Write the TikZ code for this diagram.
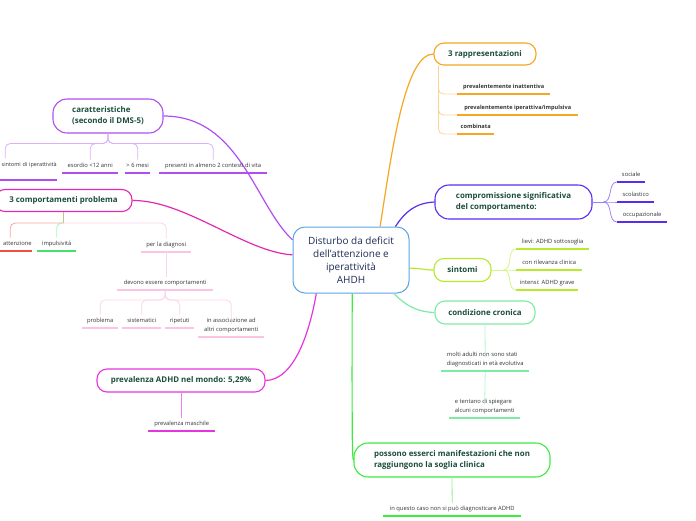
\documentclass[tikz,border=0pt]{standalone}
\usepackage{fontspec}
\setmainfont{Open Sans}
\usetikzlibrary{calc}
\definecolor{titlec}{HTML}{1B4D3E}
\definecolor{smallc}{HTML}{333333}
\definecolor{ctrtext}{HTML}{1F2D55}
\definecolor{ctrC}{HTML}{5BA4E5}
\definecolor{orC}{HTML}{F5A623}
\definecolor{orL}{HTML}{FBD494}
\definecolor{viC}{HTML}{5A2CF0}
\definecolor{viL}{HTML}{9A84F5}
\definecolor{siC}{HTML}{B5EA2D}
\definecolor{siL}{HTML}{D6F48A}
\definecolor{crC}{HTML}{7DEBA5}
\definecolor{crL}{HTML}{B4F5CC}
\definecolor{poC}{HTML}{3DEB3D}
\definecolor{poL}{HTML}{8CF08C}
\definecolor{caC}{HTML}{B04EF0}
\definecolor{caL}{HTML}{DDB0FA}
\definecolor{cpC}{HTML}{E02AB4}
\definecolor{tanL}{HTML}{CDBE8E}
\definecolor{redC}{HTML}{F0503C}
\definecolor{redL}{HTML}{F5A89C}
\definecolor{grC}{HTML}{45E070}
\definecolor{grL}{HTML}{AEF0C0}
\definecolor{pkC}{HTML}{FBC4E2}
\definecolor{pkL}{HTML}{FCD3EA}
\definecolor{pvC}{HTML}{E535E0}
\definecolor{pvL}{HTML}{F080EA}
\begin{document}
\begin{tikzpicture}[x=1pt,y=-1pt,
  box/.style={draw=#1, line width=1.1pt, fill=white, rounded corners=10pt, align=center,
    inner sep=0pt, font=\fontsize{7.9}{11}\selectfont\bfseries, text=titlec},
  conn/.style={draw=#1, line width=1.2pt},
  brk/.style={draw=#1, line width=0.8pt, rounded corners=5pt},
  fork/.style={draw=#1, line width=0.8pt},
  ul/.style={draw=#1, line width=1.6pt},
  leaf/.style={font=\fontsize{5.8}{9}\selectfont, text=smallc, text height=4.4pt, text depth=1.3pt,
    inner xsep=0pt, inner ysep=3.6pt, align=center, anchor=south west},
  leafb/.style={leaf, font=\fontsize{5.6}{9}\selectfont\bfseries},
]
\useasboundingbox (0,0) rectangle (696,520);

% central
\node[draw=ctrC, line width=1pt, fill=white, rounded corners=12pt, minimum width=116pt, minimum height=66pt,
  align=center, text=ctrtext, font=\fontsize{10}{13}\selectfont] (ctr) at (351,260)
  {Disturbo da deficit\\dell'attenzione e\\iperattività\\AHDH};

% main boxes
\node[box=orC, minimum width=102pt, minimum height=22pt] (rep) at (485,54) {3 rappresentazioni};
\node[box=viC, minimum width=157pt, minimum height=34pt, rounded corners=14pt, align=left] (comp) at (513.5,202) {compromissione significativa\\del comportamento:};
\node[box=siC, minimum width=57pt, minimum height=23pt] (sint) at (462.5,270) {sintomi};
\node[box=crC, minimum width=100pt, minimum height=23pt] (cron) at (485,312.5) {condizione cronica};
\node[box=poC, minimum width=196pt, minimum height=34pt, rounded corners=14pt, align=left] (poss) at (452,460) {possono esserci manifestazioni che non\\raggiungono la soglia clinica};
\node[box=caC, minimum width=110pt, minimum height=34pt, rounded corners=14pt, align=left] (carat) at (108,116) {caratteristiche\\(secondo il DMS-5)};
\node[box=cpC, minimum width=137pt, minimum height=22pt] (cp) at (63.5,200.5) {3 comportamenti problema};
\node[box=pvC, minimum width=168pt, minimum height=23pt] (prev) at (181,380.5) {prevalenza ADHD nel mondo: 5,29\%};

% main connectors
\draw[conn=orC] (ctr.49) .. controls (392,150) and (405,54) .. (rep.west);
\draw[conn=viC] (ctr.37) .. controls (405,212) and (415,203) .. (comp.west);
\draw[conn=siC] (ctr.-8) .. controls (420,268) and (424,270) .. (sint.west);
\draw[conn=crC] (ctr.-38) .. controls (408,308) and (420,312) .. (cron.west);
\draw[conn=poC] (ctr.-88) .. controls (352,420) and (352,460) .. (poss.west);
\draw[conn=pvC] (prev.east) .. controls (295,380) and (310,330) .. (ctr.-136);
\draw[conn=cpC] (cp.east) .. controls (185,200) and (245,252) .. (ctr.175);
\draw[conn=caC] (carat.east) .. controls (240,116) and (255,205) .. (ctr.161);

% 3 rappresentazioni
\node[leafb, minimum width=93pt] (r1) at (457,94) {prevalentemente inattentiva};
\node[leafb, minimum width=121pt] (r2) at (457,115) {prevalentemente iperattiva/impulsiva};
\node[leafb, minimum width=37pt] (r3) at (457,134) {combinata};
\foreach \n in {r1,r2,r3}{
  \draw[brk=orL] ($(rep.south west)+(5,0)$) |- (\n.south west);
  \draw[ul=orC] (\n.south west) -- (\n.south east);
}

% compromissione
\node[leaf, minimum width=28pt] (c1) at (617,182) {sociale};
\node[leaf, minimum width=37pt] (c2) at (617,202) {scolastico};
\node[leaf, minimum width=50pt] (c3) at (617,222) {occupazionale};
\draw[fork=viL] (comp.east) -- ++(11,0) coordinate (vf);
\foreach \n in {c1,c2,c3}{
  \draw[fork=viL] (vf) to[out=0,in=180] (\n.south west);
  \draw[ul=viC] (\n.south west) -- (\n.south east);
}

% sintomi
\node[leaf, minimum width=73pt] (s1) at (516,249) {lievi: ADHD sottosoglia};
\node[leaf, minimum width=66pt] (s2) at (516,270) {con rilevanza clinica};
\node[leaf, minimum width=62pt] (s3) at (516,290) {intensi: ADHD grave};
\draw[fork=siL] (sint.east) -- ++(12,0) coordinate (sf);
\foreach \n in {s1,s2,s3}{
  \draw[fork=siL] (sf) to[out=0,in=180] (\n.south west);
  \draw[ul=siC] (\n.south west) -- (\n.south east);
}

% condizione cronica
\node[leaf, minimum width=88pt, align=left] (cr1) at (441,371) {molti adulti non sono stati\\diagnosticati in età evolutiva};
\node[leaf, minimum width=71pt, align=left] (cr2) at (449,418) {e tentano di spiegare\\alcuni comportamenti};
\draw[fork=crL] (cron.south) -- (cr1.north);
\draw[fork=crL] (cr1.south) -- (cr2.north);
\draw[ul=crC] (cr1.south west) -- (cr1.south east);
\draw[ul=crC] (cr2.south west) -- (cr2.south east);

% possono
\node[leaf, minimum width=138pt] (p1) at (383,516) {in questo caso non si può diagnosticare ADHD};
\draw[fork=poL] (poss.south) -- (p1.north);
\draw[ul=poC] (p1.south west) -- (p1.south east);

% caratteristiche
\node[leaf, font=\fontsize{5.5}{9}\selectfont, text width=103pt, align=right, inner xsep=0.5pt, text depth=9.8pt] (k0) at (-47,180) {sintomi di iperattività};
\node[leaf, minimum width=56pt] (k1) at (62,173) {esordio <12 anni};
\node[leaf, minimum width=25pt] (k2) at (125,173) {> 6 mesi};
\node[leaf, minimum width=108pt] (k3) at (159,173) {presenti in almeno 2 contesti di vita};
\foreach \n in {k0,k1,k2,k3}{
  \draw[brk=caL] (carat.south) -- ++(0,10) -| (\n.north);
  \draw[ul=caC] (\n.south west) -- (\n.south east);
}

% 3 comportamenti problema
\node[leaf, text width=43pt, align=right, inner xsep=0.5pt] (a1) at (-12,251) {attenzione};
\node[leaf, minimum width=39pt] (a2) at (37,251) {impulsività};
\node[leaf, minimum width=50pt] (a3) at (141,252) {per la diagnosi};
\draw[fork=tanL] (cp.south) -- ++(0,11) coordinate (cpf);
\draw[brk=redL] (cpf) -| (a1.north);
\draw[brk=grL] (cpf) -| (a2.north);
\draw[brk=pkL] (cpf) -| (a3.north);
\draw[ul=redC] (a1.south west) -- (a1.south east);
\draw[ul=grC] (a2.south west) -- (a2.south east);
\draw[ul=pkC] (a3.south west) -- (a3.south east);
\node[leaf, minimum width=96pt] (d1) at (117,290) {devono essere comportamenti};
\draw[fork=pkL] (a3.south) -- (a3.south |- d1.north);
\draw[ul=pkC] (d1.south west) -- (d1.south east);
\node[leaf, minimum width=36pt] (e1) at (82,328) {problema};
\node[leaf, minimum width=39pt] (e2) at (122,328) {sistematici};
\node[leaf, minimum width=29pt] (e3) at (165,328) {ripetuti};
\node[leaf, minimum width=66pt] (e4) at (198,337) {in associazione ad\\altri comportamenti};
\foreach \n in {e1,e2,e3,e4}{
  \draw[brk=pkL] (d1.south) -- ++(0,10) -| (\n.north);
  \draw[ul=pkC] (\n.south west) -- (\n.south east);
}

% prevalenza
\node[leaf, minimum width=67pt] (m1) at (148,431) {prevalenza maschile};
\draw[fork=pvL] (prev.south) -- (prev.south |- m1.north);
\draw[ul=pvC] (m1.south west) -- (m1.south east);
\end{tikzpicture}
\end{document}
